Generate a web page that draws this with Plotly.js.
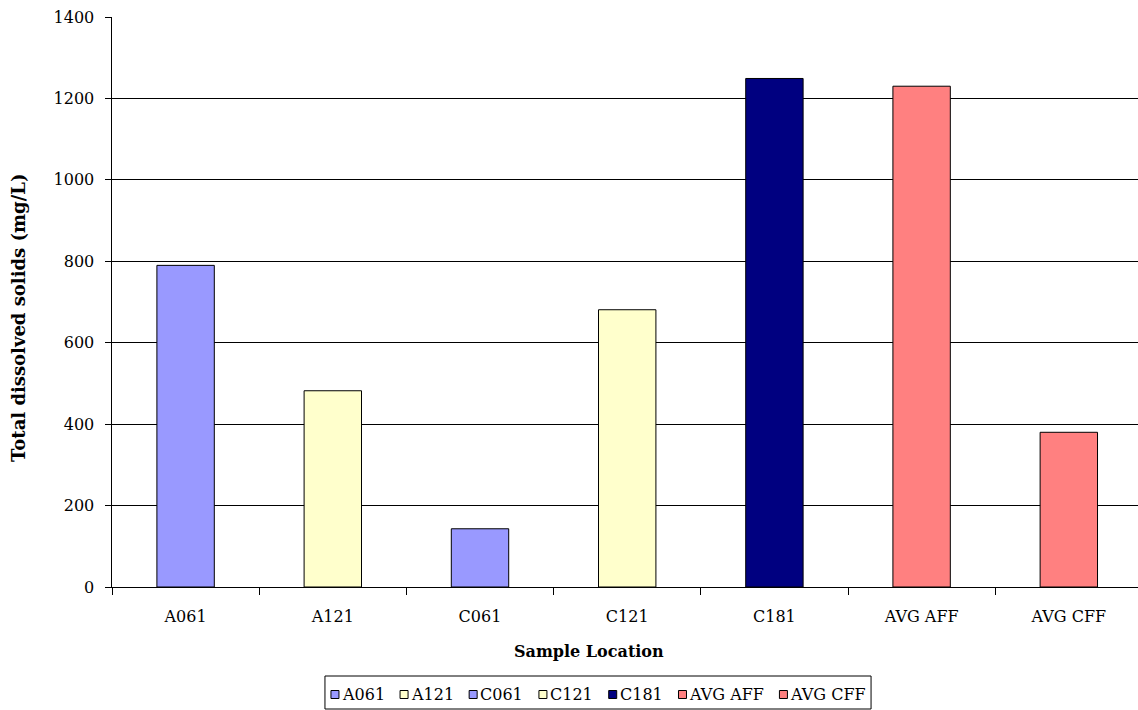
<!DOCTYPE html>
<html>
<head>
<meta charset="utf-8">
<script src="https://cdn.plot.ly/plotly-3.0.1.min.js"></script>
<style>
  html, body { margin: 0; padding: 0; background: #fff; }
  #chart { width: 1138px; height: 710px; }
</style>
</head>
<body>
<div id="chart"></div>
<script>
// Sample locations and total dissolved solids (mg/L)
const locations = ["A061", "A121", "C061", "C121", "C181", "AVG AFF", "AVG CFF"];
const tdsValues = [790, 482, 143, 681, 1249, 1230, 380];
const barColors = ["#9999FF", "#FFFFCC", "#9999FF", "#FFFFCC", "#000080", "#FF8080", "#FF8080"];
const yTicks = [0, 200, 400, 600, 800, 1000, 1200, 1400];
const xTitle = "Sample Location";
const yTitle = "Total dissolved solids (mg/L)";

const FONT = "DejaVu Serif";
const W = 1138, H = 710;
const M = { l: 112, r: 0, t: 17, b: 123 };
const plotW = W - M.l - M.r, plotH = H - M.t - M.b;

// pixel -> paper coordinate helpers for the text and legend placed around the plot
const px2x = p => (p - M.l) / plotW;
const py2y = p => (H - M.b - p) / plotH;

// one bar trace per location
const traces = locations.map((loc, i) => ({
  type: "bar",
  name: loc,
  x: [loc],
  y: [tdsValues[i]],
  width: 0.39,
  marker: { color: barColors[i], line: { color: "#000000", width: 1 } },
  hoverinfo: "x+y",
  showlegend: false
}));

// compact legend row: swatch + label per location, laid out from measured text widths
const legendSize = 16;
const ctx = document.createElement("canvas").getContext("2d");
ctx.font = legendSize + "px '" + FONT + "'";
const sq = 8, sqGap = 3, entryGap = 16, pad = 6;
const labelW = locations.map(t => ctx.measureText(t).width);
const legendW = pad * 2 + labelW.reduce((s, w) => s + sq + sqGap + w, 0) + entryGap * (locations.length - 1);
const legendCx = 598, legendTop = 676, legendBottom = 709, rowY = 694.5;

const shapes = [{
  type: "rect", xref: "paper", yref: "paper", layer: "above",
  x0: px2x(legendCx - legendW / 2), x1: px2x(legendCx + legendW / 2),
  y0: py2y(legendBottom), y1: py2y(legendTop),
  line: { color: "#000000", width: 1 }, fillcolor: "rgba(0,0,0,0)"
}];

// axis titles
const annotations = [
  {
    xref: "paper", yref: "paper", x: px2x(589), y: py2y(651),
    xanchor: "center", yanchor: "middle", showarrow: false,
    text: "<b>" + xTitle + "</b>",
    font: { family: FONT, size: 16, color: "#000000" }
  },
  {
    xref: "paper", yref: "paper", x: px2x(18), y: py2y(318),
    xanchor: "center", yanchor: "middle", showarrow: false, textangle: -90,
    text: "<b>" + yTitle + "</b>",
    font: { family: FONT, size: 18, color: "#000000" }
  }
];

let cursor = legendCx - legendW / 2 + pad;
locations.forEach((loc, i) => {
  shapes.push({
    type: "rect", xref: "paper", yref: "paper", layer: "above",
    x0: px2x(cursor), x1: px2x(cursor + sq),
    y0: py2y(rowY + sq / 2), y1: py2y(rowY - sq / 2),
    line: { color: "#000000", width: 1 }, fillcolor: barColors[i]
  });
  annotations.push({
    xref: "paper", yref: "paper",
    x: px2x(cursor + sq + sqGap - 1), y: py2y(rowY),
    xanchor: "left", yanchor: "middle",
    text: loc, showarrow: false, borderpad: 0,
    font: { family: FONT, size: legendSize, color: "#000000" }
  });
  cursor += sq + sqGap + labelW[i] + entryGap;
});

const layout = {
  width: W,
  height: H,
  margin: { l: M.l, r: M.r, t: M.t, b: M.b, pad: 0 },
  paper_bgcolor: "#ffffff",
  plot_bgcolor: "#ffffff",
  barmode: "overlay",
  font: { family: FONT, size: 16, color: "#000000" },
  showlegend: false,
  shapes: shapes,
  annotations: annotations,
  xaxis: {
    type: "category",
    categoryorder: "array",
    categoryarray: locations,
    range: [-0.5, 6.47],
    showgrid: false,
    showline: true, linecolor: "#000000", linewidth: 1,
    ticks: "outside", tickson: "boundaries", ticklen: 7, tickcolor: "#000000",
    ticklabelstandoff: 15,
    tickfont: { family: FONT, size: 16, color: "#000000" },
    zeroline: false,
    fixedrange: true
  },
  yaxis: {
    range: [0, 1400],
    tickmode: "array",
    tickvals: yTicks,
    ticktext: yTicks.map(String),
    showgrid: true, gridcolor: "#000000", gridwidth: 1,
    showline: true, linecolor: "#000000", linewidth: 1.5,
    ticks: "outside", ticklen: 6, tickcolor: "#000000",
    ticklabelstandoff: 7,
    tickfont: { family: FONT, size: 16, color: "#000000" },
    zeroline: false,
    fixedrange: true
  }
};

Plotly.newPlot("chart", traces, layout, { displayModeBar: false, staticPlot: true });
</script>
</body>
</html>
